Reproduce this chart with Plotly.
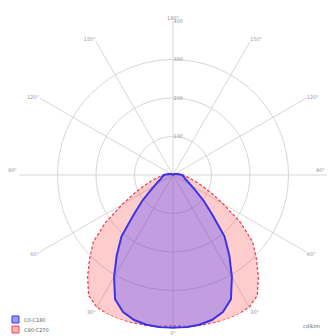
import plotly.graph_objects as go

# Luminous intensity distribution (cd/klm) per gamma angle, 0° = nadir
gamma = [0, 5, 10, 15, 20, 25, 30, 35, 40, 45, 50, 55, 60, 65, 70, 75, 80, 85, 90,
         95, 100, 110, 120, 135, 150, 165, 180]

# C0-C180 plane
c0 = [397, 397, 395, 390, 379, 356, 306, 255, 208, 143, 104, 73, 55, 44, 36, 31, 29, 26, 23,
      18, 13, 8, 5, 2, 1, 1, 1]
c180 = [397, 397, 395, 390, 379, 356, 306, 255, 208, 143, 104, 73, 55, 44, 36, 31, 29, 26, 23,
        18, 13, 8, 5, 2, 1, 1, 1]

# C90-C270 plane
c90 = [392, 395, 397, 398, 400, 400, 396, 382, 345, 306, 270, 213, 151, 109, 78, 57, 42, 31, 26,
       21, 16, 10, 5, 2, 1, 1, 1]
c270 = [392, 395, 397, 398, 400, 400, 396, 382, 345, 306, 270, 213, 151, 109, 78, 57, 42, 31, 26,
        21, 16, 10, 5, 2, 1, 1, 1]

plane_names = ["C0-C180", "C90-C270"]
radial_ticks = [100, 200, 300, 400]
angle_ticks = list(range(0, 360, 30))
# the two horizontal (90°) labels are placed separately so they stay on the page
angle_text = ["" if a in (90, 270) else f"{a if a <= 180 else 360 - a}°" for a in angle_ticks]


def closed_curve(right, left):
    """Right half at +gamma, left half mirrored at 360-gamma."""
    theta = list(gamma) + [360 - g for g in reversed(gamma)]
    r = list(right) + list(reversed(left))
    return theta, r


fig = go.Figure()

t_red, r_red = closed_curve(c90, c270)
fig.add_trace(go.Scatterpolar(
    theta=t_red, r=r_red, mode="lines", fill="toself",
    fillcolor="rgba(255,40,50,0.24)",
    line=dict(color="rgb(235,70,80)", width=1.3, dash="3px,2px"),
    name=plane_names[1], showlegend=False,
))

t_blue, r_blue = closed_curve(c0, c180)
fig.add_trace(go.Scatterpolar(
    theta=t_blue, r=r_blue, mode="lines", fill="toself",
    fillcolor="rgba(80,70,255,0.35)",
    line=dict(color="rgb(60,50,230)", width=2),
    name=plane_names[0], showlegend=False,
))

grid = "rgb(215,215,215)"
label_font = dict(size=5, color="rgb(150,150,150)", family="DejaVu Sans")
fig.update_layout(
    width=334, height=336,
    margin=dict(l=19, r=7, t=21, b=7),
    paper_bgcolor="white",
    polar=dict(
        bgcolor="white",
        radialaxis=dict(
            range=[0, 400], tickvals=radial_ticks, showline=False,
            gridcolor=grid, gridwidth=1, angle=90, tickangle=90,
            tickfont=label_font, ticks="",
        ),
        angularaxis=dict(
            rotation=-90, direction="counterclockwise",
            tickvals=angle_ticks, ticktext=angle_text,
            showline=False, gridcolor=grid, gridwidth=1, ticks="",
            tickfont=label_font,
        ),
    ),
)

for x, anchor in [(0, "right"), (1, "right")]:
    fig.add_annotation(xref="paper", yref="paper", x=x, y=0.5,
                       text="90°", showarrow=False, xanchor=anchor, yanchor="bottom",
                       font=label_font)

# Legend boxes and unit label
legend_colors = [("rgba(80,70,255,0.55)", "rgb(60,50,230)"),
                 ("rgba(255,40,50,0.35)", "rgb(235,70,80)")]
for i, (name, (fc, lc)) in enumerate(zip(plane_names, legend_colors)):
    y0 = 316 + i * 10
    fig.add_shape(type="rect", xref="paper", yref="paper",
                  x0=(12 - 19) / 308, x1=(19 - 19) / 308,
                  y0=(329 - (y0 + 7)) / 308, y1=(329 - y0) / 308,
                  fillcolor=fc, line=dict(color=lc, width=1))
    fig.add_annotation(xref="paper", yref="paper",
                       x=(22 - 19) / 308, y=(329 - (y0 + 3.5)) / 308,
                       text=name, showarrow=False, xanchor="left", yanchor="middle",
                       font=dict(size=5, color="rgb(90,90,90)", family="DejaVu Sans"))

fig.add_annotation(xref="paper", yref="paper",
                   x=(322 - 19) / 308, y=(329 - 326) / 308,
                   text="cd/klm", showarrow=False, xanchor="right", yanchor="middle",
                   font=dict(size=5, color="rgb(90,90,90)", family="DejaVu Sans"))

fig.write_html("out.html")
